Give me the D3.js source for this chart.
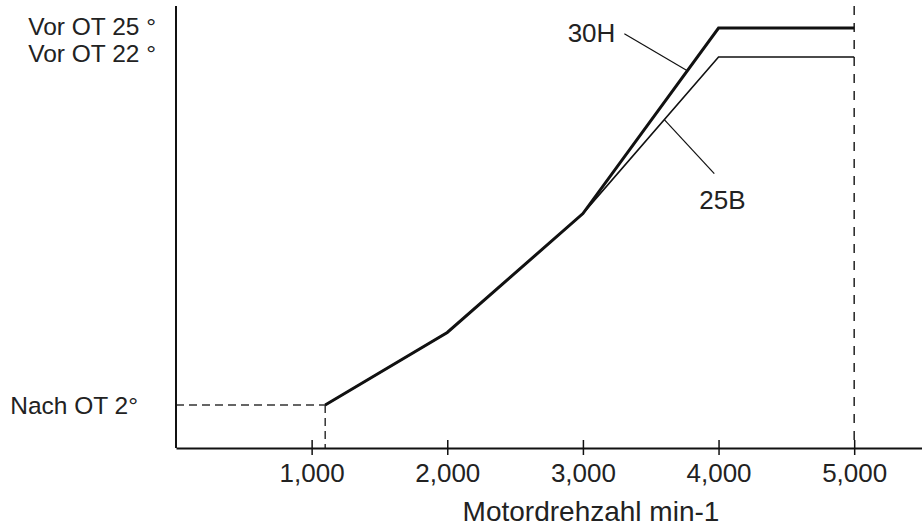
<!DOCTYPE html>
<html>
<head>
<meta charset="utf-8">
<script src="https://cdn.jsdelivr.net/npm/d3@7"></script>
<style>
  body { margin: 0; background: #fff; }
  svg { display: block; }
  text { font-family: "Liberation Sans", Arial, sans-serif; fill: #222; }
</style>
</head>
<body>
<svg width="922" height="527"></svg>
<script>
// Drehzahl (min-1) und Zuendzeitpunkt (Grad, + = vor OT, - = nach OT)
var drehzahl = [1100, 2000, 3000, 4000, 5000];
var zuendung30H = [-2, 3, 11.2, 25, 25];
var zuendung25B = [-2, 3, 11.2, 22, 22];
var xTicks = [1000, 2000, 3000, 4000, 5000];
var yLabelWerte = [25, 22, -2];
var yLabelTexte = ["Vor OT 25 \u00B0", "Vor OT 22 \u00B0", "Nach OT 2\u00B0"];
var kurvenNamen = ["30H", "25B"];
var kurvenAnker = [3770, 3600];   // Drehzahl, an der die Hinweislinie die Kurve trifft

var svg = d3.select("svg");

var x = d3.scaleLinear().domain([0, 5500]).range([176, 922]);
// schematische Skala: oberer Bereich gestaucht
var y = d3.scaleLinear().domain([-2, 22, 25]).range([405, 57, 28]);
var yBoden = 448, yOben = 6;

// Hilfslinien (gestrichelt)
svg.append("line")
  .attr("x1", x(0)).attr("x2", x(drehzahl[0]))
  .attr("y1", y(zuendung30H[0])).attr("y2", y(zuendung30H[0]))
  .attr("stroke", "#333").attr("stroke-width", 1.5).attr("stroke-dasharray", "8,5");
svg.append("line")
  .attr("x1", x(drehzahl[0])).attr("x2", x(drehzahl[0]))
  .attr("y1", y(zuendung30H[0])).attr("y2", yBoden)
  .attr("stroke", "#333").attr("stroke-width", 1.5).attr("stroke-dasharray", "8,5");
svg.append("line")
  .attr("x1", x(5000)).attr("x2", x(5000))
  .attr("y1", yOben).attr("y2", yBoden)
  .attr("stroke", "#222").attr("stroke-width", 1.5).attr("stroke-dasharray", "9,8");

// x-Achse
var xAxis = svg.append("g")
  .attr("transform", "translate(0," + yBoden + ")")
  .call(d3.axisBottom(x).tickValues(xTicks).tickFormat(d3.format(",")).tickSizeOuter(0));
xAxis.select(".domain").attr("stroke", "#111").attr("stroke-width", 2);
xAxis.selectAll(".tick line").attr("y1", -8).attr("y2", 7).attr("stroke", "#111").attr("stroke-width", 1.5);
xAxis.selectAll(".tick text")
  .attr("y", 16).attr("dy", "0.71em")
  .style("font-family", "'Liberation Sans', Arial, sans-serif")
  .style("font-size", "26px").attr("fill", "#222");

// y-Achse
svg.append("line")
  .attr("x1", x(0)).attr("x2", x(0))
  .attr("y1", yOben).attr("y2", yBoden)
  .attr("stroke", "#111").attr("stroke-width", 2);

// y-Beschriftungen
yLabelWerte.forEach(function(v, i) {
  var ende = (v < 0) ? x(0) - 38 : x(0) - 20;
  var yy = (i == 1) ? y(yLabelWerte[0]) + 25 : y(v);
  svg.append("text")
    .attr("x", ende).attr("y", (i == 0) ? yy - 2 : yy)
    .attr("dy", "0.35em")
    .attr("text-anchor", "end")
    .style("font-size", "24.5px")
    .text(yLabelTexte[i]);
});

// Achsentitel
svg.append("text")
  .attr("x", 591).attr("y", 521)
  .attr("text-anchor", "middle")
  .style("font-size", "28px")
  .text("Motordrehzahl min-1");

// Kurven
var linie = d3.line()
  .x(function(d) { return x(d[0]); })
  .y(function(d) { return y(d[1]); });

var daten25B = d3.zip(drehzahl, zuendung25B);
var daten30H = d3.zip(drehzahl, zuendung30H);

svg.append("path").datum(daten25B)
  .attr("d", linie).attr("fill", "none")
  .attr("stroke", "#111").attr("stroke-width", 1.6);
svg.append("path").datum(daten30H)
  .attr("d", linie).attr("fill", "none")
  .attr("stroke", "#111").attr("stroke-width", 3)
  .attr("stroke-linejoin", "miter");

// Punkt auf der gezeichneten Kurve bei gegebener Drehzahl (Interpolation in Pixeln)
function punktAufKurve(daten, rpm) {
  for (var i = 0; i < daten.length - 1; i++) {
    if (rpm >= daten[i][0] && rpm <= daten[i + 1][0]) {
      var t = (rpm - daten[i][0]) / (daten[i + 1][0] - daten[i][0]);
      var y0 = y(daten[i][1]), y1 = y(daten[i + 1][1]);
      return [x(rpm), y0 + t * (y1 - y0)];
    }
  }
}

// Hinweislinien und Kurvennamen
var p30 = punktAufKurve(daten30H, kurvenAnker[0]);
svg.append("line")
  .attr("x1", p30[0]).attr("y1", p30[1])
  .attr("x2", p30[0] - 63).attr("y2", p30[1] - 37)
  .attr("stroke", "#111").attr("stroke-width", 1.2);
svg.append("text")
  .attr("x", p30[0] - 72).attr("y", p30[1] - 38)
  .attr("dy", "0.35em").attr("text-anchor", "end")
  .style("font-size", "26px")
  .text(kurvenNamen[0]);

var p25 = punktAufKurve(daten25B, kurvenAnker[1]);
svg.append("line")
  .attr("x1", p25[0]).attr("y1", p25[1])
  .attr("x2", p25[0] + 50).attr("y2", p25[1] + 54)
  .attr("stroke", "#111").attr("stroke-width", 1.2);
svg.append("text")
  .attr("x", p25[0] + 35).attr("y", p25[1] + 80)
  .attr("dy", "0.35em").attr("text-anchor", "start")
  .style("font-size", "26px")
  .text(kurvenNamen[1]);
</script>
</body>
</html>
